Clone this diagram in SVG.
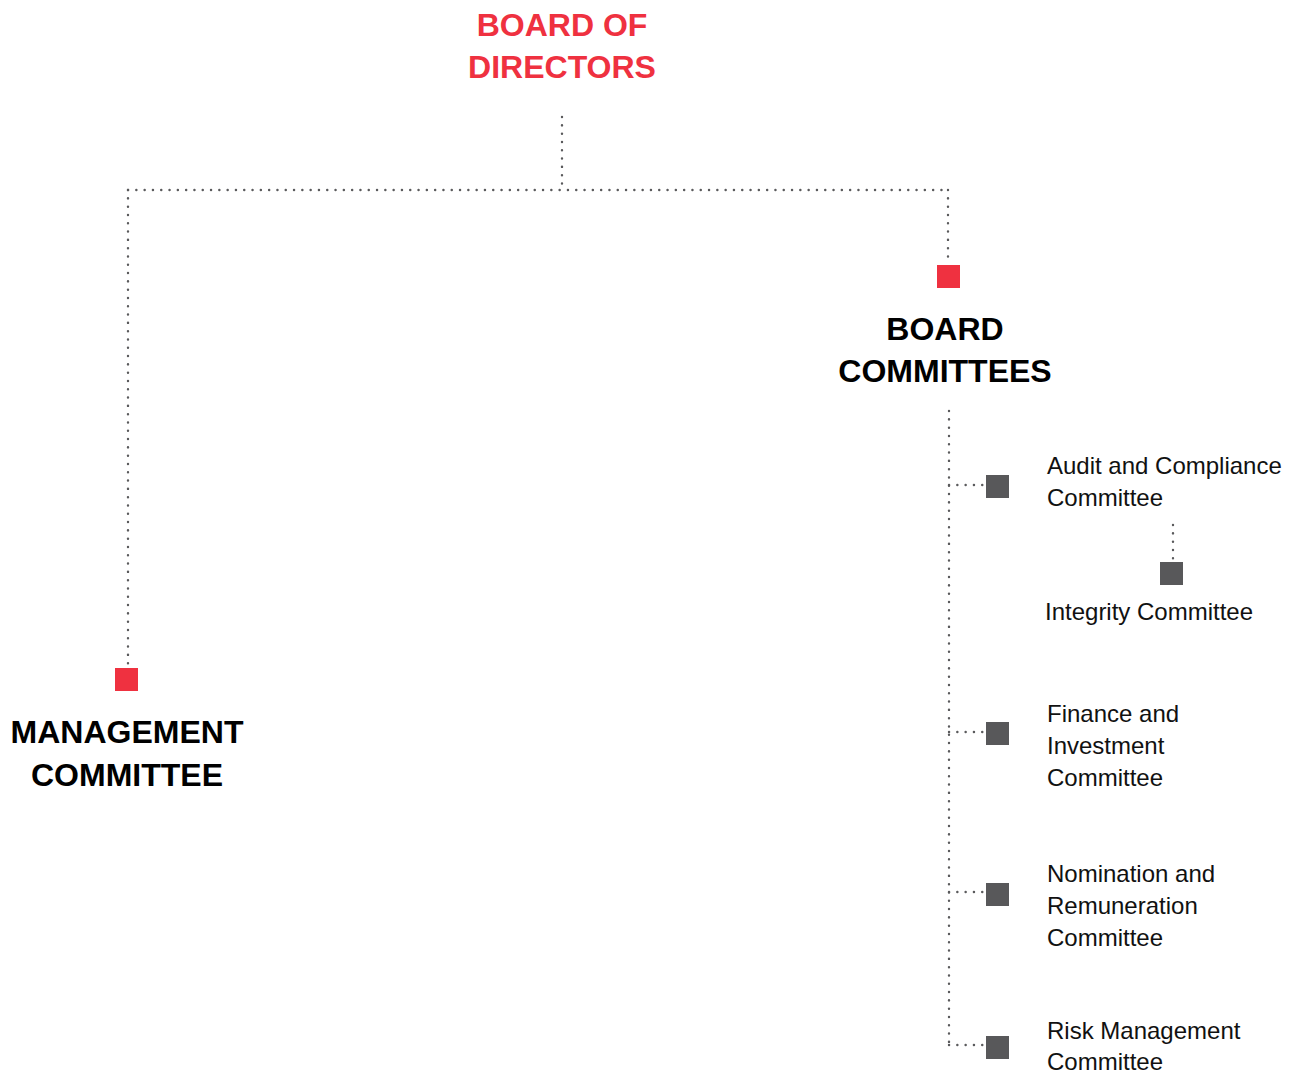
<svg xmlns="http://www.w3.org/2000/svg" width="1305" height="1076" viewBox="0 0 1305 1076">
<style>
.c{fill:none;stroke:#5a5a5c;stroke-width:2.4;stroke-linecap:round;stroke-dasharray:0.1 8.2}
.h{font-family:"Liberation Sans",Arial,sans-serif;font-weight:bold;font-size:32px;text-anchor:middle}
.t{font-family:"Liberation Sans",Arial,sans-serif;font-size:24px;fill:#111}
.red{fill:#ef3140}
.dk{fill:#58585a}
</style>
<rect width="1305" height="1076" fill="#fff"/>
<g id="connectors">
<path class="c" d="M562 117V190"/>
<path class="c" d="M128 190H948"/>
<path class="c" d="M128 190V666"/>
<path class="c" d="M948 190V264"/>
<path class="c" d="M949 411V1045"/>
<path class="c" d="M949 485H986"/>
<path class="c" d="M949 732H986"/>
<path class="c" d="M949 892H986"/>
<path class="c" d="M949 1045H986"/>
<path class="c" d="M1173 525V561"/>
</g>
<g id="board-of-directors">
<text class="h red" x="562" y="36">BOARD OF</text>
<text class="h red" x="562" y="78">DIRECTORS</text>
</g>
<g id="management-committee">
<rect class="red" x="115" y="668" width="23" height="23"/>
<text class="h" x="127" y="743">MANAGEMENT</text>
<text class="h" x="127" y="786">COMMITTEE</text>
</g>
<g id="board-committees">
<rect class="red" x="937" y="265" width="23" height="23"/>
<text class="h" x="945" y="340">BOARD</text>
<text class="h" x="945" y="382">COMMITTEES</text>
</g>
<g id="audit-compliance">
<rect class="dk" x="986" y="475" width="23" height="23"/>
<text class="t" x="1047" y="474">Audit and Compliance</text>
<text class="t" x="1047" y="506">Committee</text>
</g>
<g id="integrity">
<rect class="dk" x="1160" y="562" width="23" height="23"/>
<text class="t" x="1045" y="620">Integrity Committee</text>
</g>
<g id="finance-investment">
<rect class="dk" x="986" y="722" width="23" height="23"/>
<text class="t" x="1047" y="722">Finance and</text>
<text class="t" x="1047" y="754">Investment</text>
<text class="t" x="1047" y="786">Committee</text>
</g>
<g id="nomination-remuneration">
<rect class="dk" x="986" y="883" width="23" height="23"/>
<text class="t" x="1047" y="882">Nomination and</text>
<text class="t" x="1047" y="914">Remuneration</text>
<text class="t" x="1047" y="946">Committee</text>
</g>
<g id="risk-management">
<rect class="dk" x="986" y="1036" width="23" height="23"/>
<text class="t" x="1047" y="1039">Risk Management</text>
<text class="t" x="1047" y="1070">Committee</text>
</g>
</svg>
